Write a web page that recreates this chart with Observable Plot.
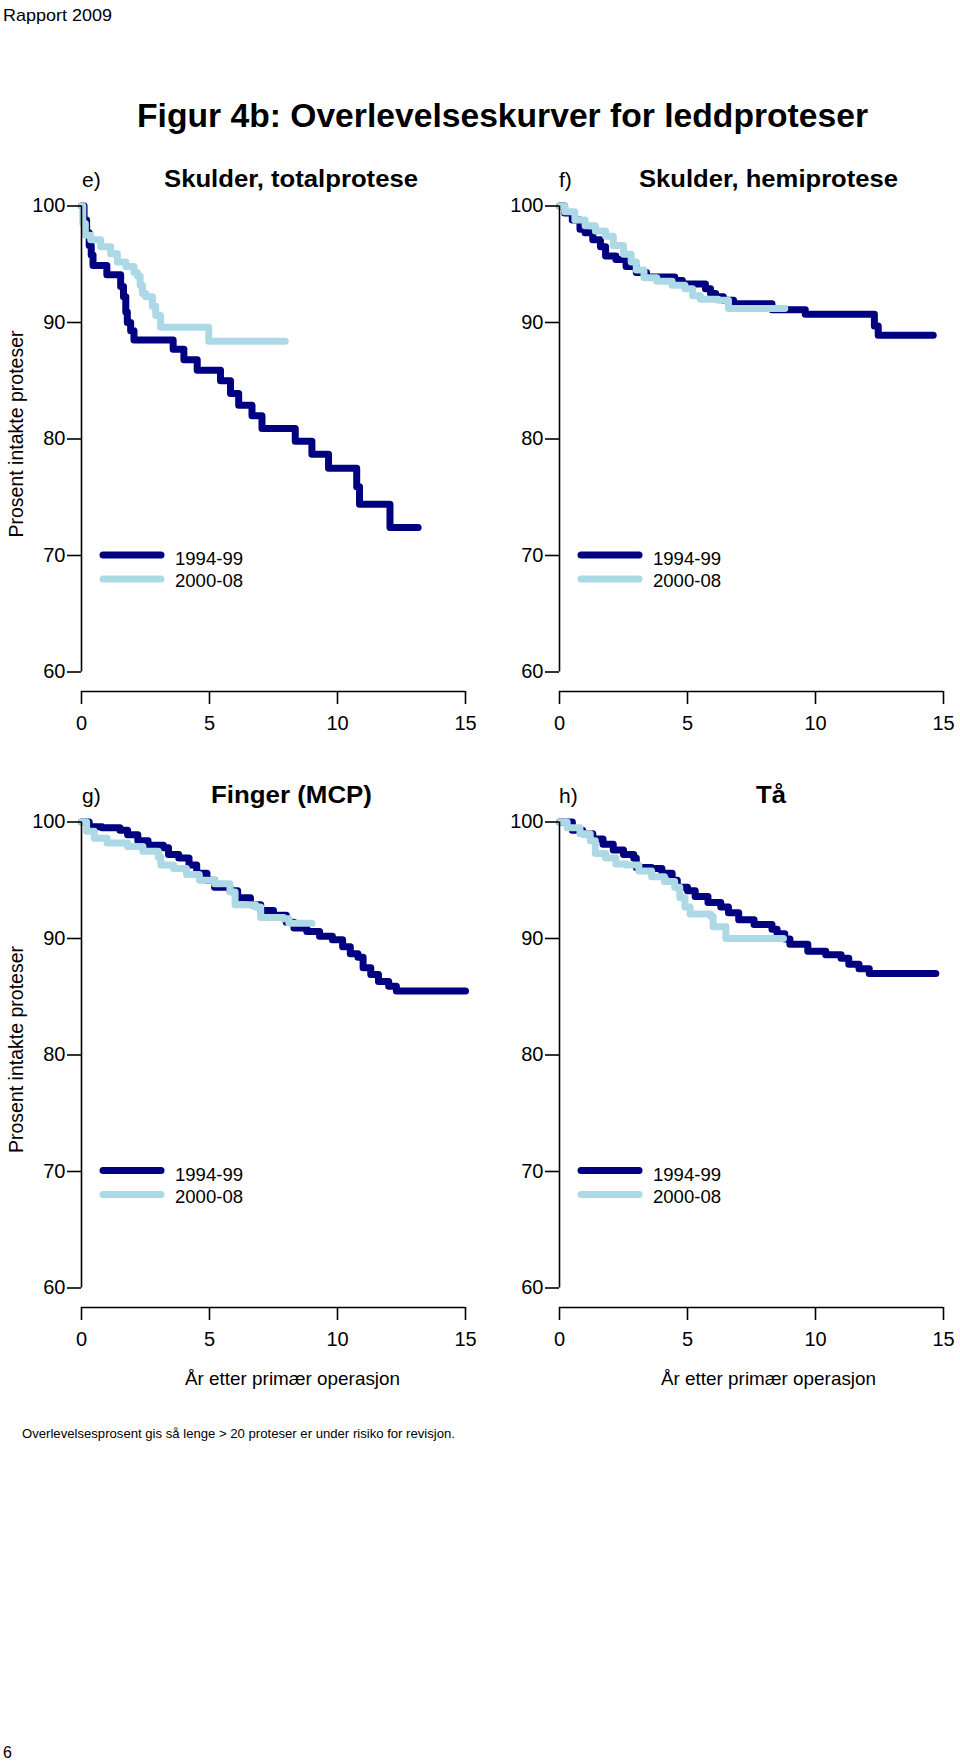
<!DOCTYPE html>
<html>
<head>
<meta charset="utf-8">
<script src="https://cdn.jsdelivr.net/npm/d3@7"></script>
<script src="https://cdn.jsdelivr.net/npm/@observablehq/plot@0.6"></script>
<style>
  html, body { margin: 0; padding: 0; background: #fff; }
  #page { position: relative; width: 960px; height: 1761px; overflow: hidden; background: #fff;
          font-family: "Liberation Sans", Arial, Helvetica, sans-serif; }
  .panel { position: absolute; }
  #overlay { position: absolute; left: 0; top: 0; pointer-events: none; }
</style>
</head>
<body>
<div id="page"></div>
<script>
// ---------- data ----------
const seriesNames = ["1994-99", "2000-08"];
const seriesColors = ["#000080", "#ADD8E6"];
const xTicks = [0, 5, 10, 15];
const yTicks = [60, 70, 80, 90, 100];

const panelLetters = ["e)", "f)", "g)", "h)"];
const panelTitles = ["Skulder, totalprotese", "Skulder, hemiprotese", "Finger (MCP)", "Tå"];

// e) Skulder, totalprotese
const eDarkT = [0, 0.1, 0.2, 0.3, 0.38, 0.45, 0.99, 1.53, 1.64, 1.73, 1.79, 1.92, 2.05, 3.58, 4.0, 4.52, 5.43, 5.82, 6.14, 6.66, 7.05, 8.35, 9.0, 9.65, 10.75, 10.86, 12.05, 13.15];
const eDarkS = [100, 98.8, 97.7, 96.6, 95.8, 94.9, 94.1, 93.1, 92.2, 90.9, 90.0, 89.3, 88.5, 87.7, 86.8, 85.9, 85.0, 83.9, 82.9, 82.0, 80.9, 79.8, 78.7, 77.5, 75.9, 74.4, 72.4, 72.4];
const eLightT = [0, 0.05, 0.15, 0.36, 0.75, 1.14, 1.40, 1.73, 2.05, 2.18, 2.29, 2.38, 2.51, 2.77, 2.90, 3.09, 4.97, 7.96];
const eLightS = [100, 98.5, 97.5, 97.1, 96.5, 95.9, 95.2, 94.8, 94.3, 94.0, 93.2, 92.5, 92.2, 91.4, 90.6, 89.6, 88.4, 88.4];

// f) Skulder, hemiprotese
const fDarkT = [0, 0.2, 0.5, 0.8, 1.0, 1.3, 1.6, 1.8, 2.2, 2.6, 3.0, 3.4, 4.5, 4.8, 5.7, 5.9, 6.1, 6.4, 6.8, 8.3, 9.6, 12.3, 12.45, 14.6];
const fDarkS = [100, 99.4, 98.8, 98.0, 97.7, 97.1, 96.5, 95.7, 95.4, 94.8, 94.3, 93.9, 93.6, 93.3, 92.9, 92.5, 92.2, 91.9, 91.6, 91.1, 90.7, 89.7, 88.9, 88.9];
const fLightT = [0, 0.2, 0.6, 1.0, 1.4, 1.8, 2.1, 2.5, 2.8, 3.0, 3.3, 3.8, 4.4, 4.9, 5.2, 5.5, 6.2, 6.6, 8.8];
const fLightS = [100, 99.5, 98.8, 98.3, 97.85, 97.4, 96.6, 95.85, 95.2, 94.5, 93.85, 93.55, 93.2, 92.9, 92.3, 92.0, 91.9, 91.2, 91.2];

// g) Finger (MCP)
const gDarkT = [0, 0.3, 0.8, 1.5, 1.8, 2.2, 2.6, 3.2, 3.4, 3.8, 4.2, 4.5, 4.9, 5.2, 5.8, 6.1, 6.6, 7.0, 7.5, 8.0, 8.3, 8.8, 9.3, 9.8, 10.2, 10.5, 10.8, 11.0, 11.3, 11.6, 12.0, 12.3, 15.0];
const gDarkS = [100, 99.6, 99.5, 99.3, 98.9, 98.4, 98.0, 97.8, 97.2, 96.9, 96.3, 95.6, 95.0, 94.4, 94.1, 93.5, 92.9, 92.4, 92.0, 91.4, 90.9, 90.6, 90.2, 89.9, 89.3, 88.7, 88.4, 87.5, 86.9, 86.3, 85.9, 85.5, 85.5];
const gLightT = [0, 0.2, 0.5, 1.0, 1.8, 2.4, 3.0, 3.1, 3.6, 4.1, 4.6, 5.2, 5.8, 6.0, 6.8, 7.0, 7.9, 8.1, 9.0];
const gLightS = [100, 99.2, 98.6, 98.2, 97.9, 97.5, 97.0, 96.3, 96.0, 95.5, 95.0, 94.7, 94.0, 92.9, 92.7, 91.8, 91.7, 91.3, 91.3];

// h) Tå
const hDarkT = [0, 0.5, 0.9, 1.3, 1.7, 2.1, 2.5, 2.9, 3.0, 3.6, 4.0, 4.4, 4.6, 5.0, 5.3, 5.8, 6.3, 6.6, 7.0, 7.6, 8.3, 8.5, 8.8, 9.0, 9.7, 10.4, 11.0, 11.3, 11.7, 12.1, 14.7];
const hDarkS = [100, 99.3, 99.0, 98.55, 98.1, 97.6, 97.2, 96.9, 96.1, 96.0, 95.6, 95.0, 94.4, 94.1, 93.6, 93.1, 92.7, 92.2, 91.6, 91.2, 90.8, 90.4, 89.95, 89.5, 88.9, 88.6, 88.3, 87.8, 87.4, 87.0, 87.0];
const hLightT = [0, 0.3, 0.8, 1.2, 1.4, 1.8, 2.2, 2.6, 3.1, 3.6, 4.1, 4.5, 4.7, 4.9, 5.1, 5.9, 6.0, 6.5, 8.75];
const hLightS = [100, 99.5, 99.0, 98.4, 97.3, 96.9, 96.4, 96.3, 95.8, 95.3, 94.9, 94.4, 93.5, 92.7, 92.1, 91.9, 91.0, 90.0, 90.0];

const yLabel = "Prosent intakte proteser";
const xLabel = "År etter primær operasjon";
const mainTitle = "Figur 4b: Overlevelseskurver for leddproteser";
const headerText = "Rapport 2009";
const captionText = "Overlevelsesprosent gis så lenge > 20 proteser er under risiko for revisjon.";
const pageNumber = "6";

// ---------- drawing ----------
const FONT = '"Liberation Sans", Arial, Helvetica, sans-serif';
const page = document.getElementById("page");

const panels = [
  {dark: [eDarkT, eDarkS], light: [eLightT, eLightS], left: 0,   top: 150},
  {dark: [fDarkT, fDarkS], light: [fLightT, fLightS], left: 478, top: 150},
  {dark: [gDarkT, gDarkS], light: [gLightT, gLightS], left: 0,   top: 765.5},
  {dark: [hDarkT, hDarkS], light: [hLightT, hLightS], left: 478, top: 765.5}
];

const toRows = ([T, S]) => T.map((t, i) => ({t, s: S[i]}));
const insetB = 19.5;

panels.forEach((p) => {
  const chart = Plot.plot({
    width: 480,
    height: 600,
    marginLeft: 81,
    marginRight: 15,
    marginTop: 55.5,
    marginBottom: 59,
    insetBottom: insetB,
    x: {domain: [xTicks[0], xTicks[xTicks.length - 1]]},
    y: {domain: [yTicks[0], yTicks[yTicks.length - 1]]},
    style: {fontFamily: FONT, fontSize: "20px", background: "transparent", overflow: "visible", color: "#000"},
    marks: [
      Plot.line(toRows(p.dark), {x: "t", y: "s", curve: "step-after", stroke: seriesColors[0], strokeWidth: 7, strokeLinejoin: "round", strokeLinecap: "round"}),
      Plot.line(toRows(p.light), {x: "t", y: "s", curve: "step-after", stroke: seriesColors[1], strokeWidth: 7, strokeLinejoin: "round", strokeLinecap: "round"}),
      Plot.ruleX([xTicks[0]], {y1: yTicks[0], y2: yTicks[yTicks.length - 1], stroke: "#000", strokeWidth: 1.6}),
      Plot.ruleY([yTicks[0]], {x1: xTicks[0], x2: xTicks[xTicks.length - 1], dy: insetB, stroke: "#000", strokeWidth: 1.6}),
      Plot.axisX(xTicks, {tickSize: 13, tickPadding: 11, strokeWidth: 1.6, fontSize: 20, label: null, stroke: "#000", fill: "#000"}),
      Plot.axisY(yTicks, {tickSize: 14, tickPadding: 2, strokeWidth: 1.6, fontSize: 20, label: null, stroke: "#000", fill: "#000"})
    ]
  });
  const div = document.createElement("div");
  div.className = "panel";
  div.style.left = p.left + "px";
  div.style.top = p.top + "px";
  div.appendChild(chart);
  page.appendChild(div);
});

// ---------- overlay: titles, labels, legends ----------
const svg = d3.select(page).append("svg")
  .attr("id", "overlay").attr("width", 960).attr("height", 1761)
  .style("font-family", FONT);

function txt(s, x, y, size, opts = {}) {
  const t = svg.append("text")
    .attr("x", x).attr("y", y)
    .attr("font-size", size)
    .attr("font-weight", opts.bold ? "bold" : "normal")
    .attr("text-anchor", opts.anchor || "start")
    .attr("fill", "#000")
    .text(s);
  if (opts.width) t.attr("textLength", opts.width).attr("lengthAdjust", "spacingAndGlyphs");
  if (opts.rotate) t.attr("transform", `rotate(-90 ${x} ${y})`);
  return t;
}

txt(headerText, 3, 21, 17, {width: 109});
txt(mainTitle, 137, 127, 34, {bold: true, width: 731});
txt(captionText, 22, 1438, 13.5, {width: 433});
txt(pageNumber, 3, 1758, 16);

const rowDY = [0, 0, 615.5, 615.5];
const colDX = [0, 478, 0, 478];
panelLetters.forEach((L, i) => {
  txt(L, 82 + colDX[i] - (i % 2), 187 + rowDY[i], 21);
});
const titleX = [164, 639, 211, 756];
const titleW = [254, 259, 161, 30];
panelTitles.forEach((T, i) => {
  txt(T, titleX[i], 187 + rowDY[i], 24, {bold: true, width: titleW[i]});
});

// y labels (left column)
[0, 615.5].forEach(dy => txt(yLabel, 23, 434 + dy, 20, {rotate: true, anchor: "middle", width: 207}));
// x labels (bottom row)
[185, 661].forEach(x => txt(xLabel, x, 1385, 19, {width: 215}));

// legends
panels.forEach((p, i) => {
  const ox = colDX[i], oy = rowDY[i];
  seriesNames.forEach((name, k) => {
    svg.append("line")
      .attr("x1", 103 + ox).attr("x2", 161 + ox)
      .attr("y1", 555 + k * 24 + oy).attr("y2", 555 + k * 24 + oy)
      .attr("stroke", seriesColors[k]).attr("stroke-width", 7).attr("stroke-linecap", "round");
    txt(name, 175 + ox, 565 + k * 22 + oy, 19, {width: 68});
  });
});
</script>
</body>
</html>
